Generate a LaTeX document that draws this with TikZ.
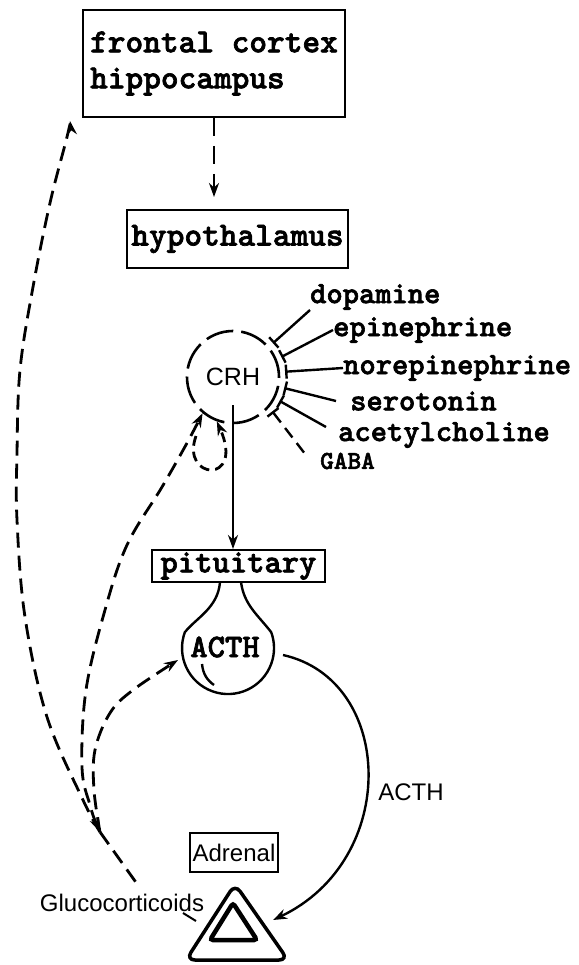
\documentclass[tikz,border=0pt]{standalone}
\usepackage{fontspec}
\usetikzlibrary{arrows.meta,calc}
\newfontfamily\monofam{lmmonolt10-bold}[Extension=.otf, FakeBold=2]
\newfontfamily\sansfam{Liberation Sans}
\newcommand{\bigmono}{\monofam\fontsize{33.7}{36}\selectfont}
\newcommand{\midmono}{\monofam\fontsize{31}{34}\selectfont}
\newcommand{\plainsans}{\sansfam\fontsize{24}{28}\selectfont}
\tikzset{
  >={Stealth[length=14pt,width=10pt]},
  organ/.style={draw, line width=2pt, font=\bigmono, inner sep=0pt},
  transmitter/.style={font=\midmono, inner sep=0pt, anchor=west},
  tag/.style={font=\plainsans, inner sep=0pt},
  drive/.style={line width=2.4pt, ->},
  curb/.style={line width=2.4pt, -{Bar[width=14pt]}, shorten >=5pt},
  feedback/.style={line width=2.8pt, dash pattern=on 15pt off 8pt, ->},
}

\begin{document}
\begin{tikzpicture}[x=1pt,y=-1pt]
  \useasboundingbox (0,0) rectangle (578,965);
  % organs
  \node[organ, minimum width=262pt, minimum height=107pt, align=left] (cortex) at (214,63.5) {frontal cortex\\hippocampus};
  \node[organ, minimum width=221pt, minimum height=58pt] (hypo) at (237.5,239) {hypothalamus};
  \node[organ, font=\monofam\fontsize{33}{36}\selectfont, minimum width=173pt, minimum height=32pt] (pit) at (238.5,566) {pituitary};
  \node[tag, draw, line width=2pt, minimum width=88pt, minimum height=39pt] (adrenal) at (234,852.5) {Adrenal};
  \node[circle, draw, line width=2.6pt, dash pattern=on 28pt off 8pt, minimum size=92pt, font=\sansfam\fontsize{25}{28}\selectfont] (crh) at (233,377) {CRH};
  \node[font=\monofam\fontsize{33}{36}\selectfont, inner sep=0pt] (acth) at (225,647) {ACTH};
  \node[tag] (acthlab) at (411,792) {ACTH};
  \node[tag] (gluco) at (122,903) {Glucocorticoids};

  % transmitters acting on CRH
  \node[transmitter] (dopa) at (310,297) {dopamine};
  \node[transmitter] (epi) at (333,330) {epinephrine};
  \node[transmitter] (norepi) at (343,368) {norepinephrine};
  \node[transmitter] (sero) at (350,401) {serotonin};
  \node[transmitter] (acet) at (338,435) {acetylcholine};
  \node[transmitter, font=\monofam\fontsize{26}{28}\selectfont] (gaba) at (320,461) {GABA};
  \draw[curb] (dopa.south west) -- (crh.40);
  \draw[curb] (epi.west) -- (crh.22);
  \draw[curb] (norepi.west) -- (crh.6);
  \draw[curb] ([xshift=-14pt]sero.west) -- (crh.-12);
  \draw[curb] ([shift={(-12pt,8pt)}]acet.west) -- (crh.-27);
  \draw[curb, dash pattern=on 12pt off 7pt] ([xshift=-16pt]gaba.north west) -- (crh.-40);

  % main axis
  \draw[drive, dash pattern=on 18pt off 10pt, shorten >=12pt] (cortex.south) -- (cortex.south |- hypo.north);
  \coordinate (crhout) at ([yshift=-28pt]crh.center);
  \draw[drive] (crhout) -- (crhout |- pit.north);

  % pituitary bulb
  \coordinate (bulb) at (228,648);
  \draw[line width=2.4pt] (220,582) .. controls (218,608) and (196,618) .. (184.8,632.3)
    arc[start angle=160, end angle=380, radius=46pt] .. controls (258,615) and (244,605) .. (241,582);
  \draw[line width=2.4pt] (202,664) .. controls (203,674) and (207,680) .. (214,685);

  % adrenal
  \coordinate (adrin) at (273,920);
  \draw[drive] (283,655) .. controls (395,680) and (400,860) .. (adrin);
  \draw[line width=3.5pt, rounded corners=9pt] (235,884) -- (288,960) -- (186,960) -- cycle;
  \draw[line width=4.5pt, rounded corners=3pt] (233,903) -- (257,940) -- (210,940) -- cycle;
  \draw[line width=2pt] (183,913) -- (196,921);

  % glucocorticoid feedback
  \coordinate (merge) at (100,832);
  \draw[feedback, -] (merge) -- ([shift={(18pt,6pt)}]gluco.north);
  \draw[feedback] plot[smooth, tension=0.6] coordinates {(merge) (83,800) (47,717) (25,617) (17,520) (17,453) (20,370) (33,287) (50,203) (67,137) (70,121)};
  \draw[feedback, <->] plot[smooth, tension=0.6] coordinates {(merge) (90,805) (82,767) (86,690) (105,610) (127,545) (162,487) (187,443) (crh.230)};
  \draw[feedback] plot[smooth, tension=0.6] coordinates {(merge) (94,790) (95,750) (110,713) (133,690) (178,660)};
  \draw[feedback, dash pattern=on 10pt off 6pt] (196,436) .. controls (180,480) and (245,485) .. (crh.250);
\end{tikzpicture}
\end{document}
